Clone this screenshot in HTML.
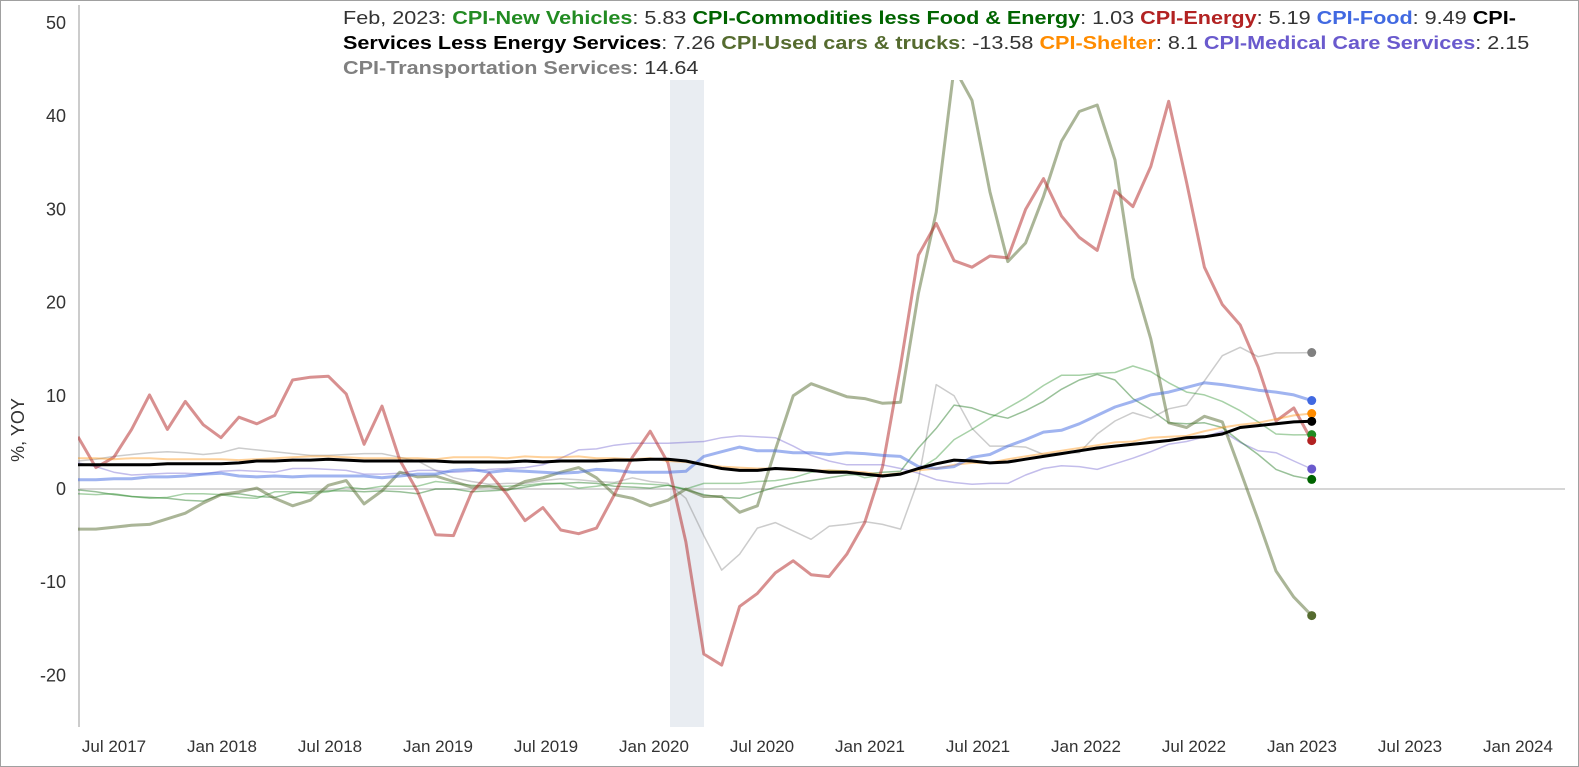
<!DOCTYPE html>
<html><head><meta charset="utf-8"><style>
body{margin:0;background:#fff;}
#wrap{position:relative;width:1579px;height:767px;overflow:hidden;font-family:"Liberation Sans",Arial,sans-serif;}
#frame{position:absolute;left:0;top:0;width:1577px;height:765px;border:1px solid #a0a0a0;}
#legend{position:absolute;left:343px;top:6px;white-space:nowrap;font-size:18px;line-height:25px;color:#333;transform:scaleX(1.2);transform-origin:0 0;}
#legend b{font-weight:bold;}
</style></head><body>
<div id="wrap">
<div id="frame"></div>
<svg id="chart" width="1579" height="767" style="position:absolute;left:0;top:0"></svg>
<div id="legend">Feb, 2023: <b style="color:#228b22">CPI-New Vehicles</b>: 5.83 <b style="color:#006400">CPI-Commodities less Food &amp; Energy</b>: 1.03 <b style="color:#b22222">CPI-Energy</b>: 5.19 <b style="color:#4169e1">CPI-Food</b>: 9.49 <b style="color:#000">CPI-<br>Services Less Energy Services</b>: 7.26 <b style="color:#556b2f">CPI-Used cars &amp; trucks</b>: -13.58 <b style="color:#ff8c00">CPI-Shelter</b>: 8.1 <b style="color:#6a5acd">CPI-Medical Care Services</b>: 2.15<br><b style="color:#808080">CPI-Transportation Services</b>: 14.64</div>
</div>
<script>
// months from May 2017 (index 0) to Feb 2023 (index 69)
const yTicks=[50,40,30,20,10,0,-10,-20];
const xTickLabels=["Jul 2017","Jan 2018","Jul 2018","Jan 2019","Jul 2019","Jan 2020","Jul 2020","Jan 2021","Jul 2021","Jan 2022","Jul 2022","Jan 2023","Jul 2023","Jan 2024"];
const xTickMonths=[2,8,14,20,26,32,38,44,50,56,62,68,74,80];
const recessionMonths=[33,35];
const newVehicles=[-0.5,-0.6,-0.5,-0.8,-1.0,-0.9,-0.5,-0.5,-0.6,-0.9,-1.0,-0.3,-0.3,-0.5,-0.3,0.2,0.0,0.3,0.3,0.3,0.8,0.6,0.4,0.3,0.3,0.4,0.6,0.6,0.1,0.3,0.6,0.6,0.5,0.4,0.0,0.6,0.6,0.6,0.8,0.9,1.2,1.8,2.0,1.9,1.2,1.5,1.7,2.1,3.3,5.3,6.4,7.6,8.7,9.8,11.1,12.2,12.2,12.4,12.5,13.2,12.6,11.4,10.4,10.1,9.4,8.4,7.2,5.9,5.8,5.83];
const commodities=[-0.1,-0.3,-0.6,-0.8,-0.9,-1.0,-1.2,-1.3,-0.6,-0.5,-0.8,-0.9,-0.4,-0.3,-0.2,-0.2,-0.3,-0.2,-0.3,-0.5,0.0,0.0,-0.3,-0.2,-0.1,0.2,0.5,0.6,0.7,0.6,0.3,0.2,0.1,0.4,-0.1,-0.6,-0.9,-1.0,-0.4,0.2,0.6,0.9,1.2,1.5,1.6,1.8,1.9,4.4,6.5,9.0,8.7,8.0,7.6,8.4,9.4,10.7,11.7,12.3,11.7,9.7,8.5,7.1,7.0,7.1,6.6,5.1,3.7,2.1,1.4,1.03];
const energy=[5.6,2.3,3.4,6.4,10.1,6.4,9.4,6.9,5.5,7.7,7.0,7.9,11.7,12.0,12.1,10.2,4.8,8.9,3.1,-0.3,-4.9,-5.0,-0.4,1.7,-0.6,-3.4,-2.0,-4.4,-4.8,-4.2,-0.6,3.4,6.2,2.8,-5.7,-17.7,-18.9,-12.6,-11.2,-9.0,-7.7,-9.2,-9.4,-7.0,-3.6,2.4,13.2,25.1,28.5,24.5,23.8,25.0,24.8,30.0,33.3,29.3,27.0,25.6,32.0,30.3,34.6,41.6,32.9,23.8,19.8,17.6,13.1,7.3,8.7,5.19];
const food=[1.0,1.0,1.1,1.1,1.3,1.3,1.4,1.6,1.7,1.4,1.3,1.4,1.3,1.4,1.4,1.4,1.4,1.2,1.4,1.6,1.6,2.0,2.1,1.8,2.0,1.9,1.8,1.7,1.8,2.1,2.0,1.8,1.8,1.8,1.9,3.5,4.0,4.5,4.1,4.1,3.9,3.9,3.7,3.9,3.8,3.6,3.5,2.4,2.2,2.4,3.4,3.7,4.6,5.3,6.1,6.3,7.0,7.9,8.8,9.4,10.1,10.4,10.9,11.4,11.2,10.9,10.6,10.4,10.1,9.49];
const services=[2.6,2.6,2.6,2.6,2.6,2.7,2.7,2.7,2.7,2.8,3.0,3.0,3.1,3.1,3.2,3.1,3.0,3.0,3.0,3.0,3.0,2.9,2.9,2.9,2.9,3.0,2.9,3.0,3.0,3.0,3.1,3.1,3.2,3.2,3.0,2.6,2.2,2.0,2.0,2.2,2.1,2.0,1.8,1.8,1.6,1.4,1.6,2.2,2.7,3.1,3.0,2.8,2.9,3.2,3.5,3.8,4.1,4.4,4.6,4.8,5.0,5.2,5.5,5.6,5.9,6.6,6.8,7.0,7.2,7.26];
const usedCars=[-4.3,-4.3,-4.1,-3.9,-3.8,-3.2,-2.6,-1.5,-0.6,-0.3,0.1,-1.0,-1.8,-1.2,0.4,0.9,-1.6,-0.2,1.8,1.3,1.4,0.8,0.2,0.3,-0.1,0.8,1.2,1.8,2.3,1.2,-0.6,-1.0,-1.8,-1.2,0.0,-0.8,-0.8,-2.5,-1.8,4.2,10.0,11.3,10.6,9.9,9.7,9.2,9.3,21.0,29.7,45.2,41.7,31.9,24.4,26.4,31.4,37.3,40.5,41.2,35.3,22.7,16.1,7.1,6.6,7.8,7.2,2.0,-3.3,-8.8,-11.6,-13.58];
const shelter=[3.3,3.3,3.2,3.3,3.3,3.2,3.2,3.2,3.2,3.1,3.2,3.3,3.4,3.5,3.5,3.4,3.3,3.3,3.3,3.3,3.2,3.4,3.4,3.4,3.3,3.5,3.4,3.4,3.5,3.3,3.3,3.2,3.3,3.0,2.9,2.6,2.4,2.3,2.2,2.2,2.0,2.0,2.0,1.9,1.8,1.5,1.7,2.0,2.2,2.6,2.8,2.8,3.2,3.5,3.8,4.1,4.4,4.7,5.0,5.1,5.5,5.6,5.7,6.2,6.6,6.9,7.1,7.5,7.9,8.1];
const medical=[2.8,2.4,1.8,1.5,1.6,1.7,1.7,1.6,1.9,2.0,1.9,1.8,2.2,2.2,2.1,2.0,1.6,1.6,1.7,2.0,2.0,1.8,1.9,2.1,2.2,2.3,2.6,3.3,4.2,4.3,4.7,4.9,4.9,4.9,5.0,5.1,5.5,5.7,5.6,5.5,4.6,3.6,3.0,2.6,2.6,2.6,2.2,1.7,1.0,0.7,0.5,0.6,0.6,1.5,2.2,2.5,2.4,2.1,2.7,3.3,4.0,4.8,5.1,5.6,6.2,5.0,4.1,3.9,3.0,2.15];
const transport=[3.0,3.2,3.5,3.7,3.9,4.0,3.9,3.7,3.9,4.4,4.2,4.0,3.8,3.6,3.6,3.7,3.8,3.8,3.4,3.0,2.0,1.2,0.8,0.5,0.6,0.6,0.9,1.1,1.0,0.8,0.7,1.2,0.8,0.6,-1.0,-5.0,-8.7,-7.0,-4.2,-3.6,-4.5,-5.4,-4.0,-3.8,-3.5,-3.8,-4.3,1.0,11.2,10.0,6.5,4.6,4.6,4.5,3.7,3.9,3.9,5.9,7.3,8.2,7.6,8.6,9.0,11.6,14.3,15.2,14.2,14.6,14.6,14.64];

const NS='http://www.w3.org/2000/svg';
const svg=document.getElementById('chart');
const X0=78, DX=17.88, Y0=489, KY=9.32, PT=80, PB=727, PR=1565;
const LX0=114, LDX=18.0;
const xs=i=>X0+i*DX;
const xl=m=>LX0+(m-2)*LDX;
const ys=v=>Y0-v*KY;
function mk(t,a){const e=document.createElementNS(NS,t);for(const k in a)e.setAttribute(k,a[k]);svg.appendChild(e);return e;}

const defs=mk('defs',{});
const cp=document.createElementNS(NS,'clipPath');cp.setAttribute('id','plotclip');
const cr=document.createElementNS(NS,'rect');cr.setAttribute('x',X0);cr.setAttribute('y',PT);cr.setAttribute('width',PR-X0);cr.setAttribute('height',PB-PT);
cp.appendChild(cr);defs.appendChild(cp);

const rec=mk('rect',{x:670,y:PT,width:34,height:PB-PT,fill:'#e9edf2'});



const ax=mk('line',{x1:X0+1,y1:5,x2:X0+1,y2:PB,stroke:'#bbb','stroke-width':1.5});


const zl=mk('line',{x1:X0,y1:ys(0),x2:PR,y2:ys(0),stroke:'#c8c8c8','stroke-width':1.5});



yTicks.forEach(v=>{
 const t=mk('text',{x:66,y:ys(v)+6,'text-anchor':'end','font-size':18,fill:'#333','font-family':'Liberation Sans, Arial, sans-serif'});
 t.textContent=v;
 
 
});
xTickLabels.forEach((l,k)=>{
 const t=mk('text',{x:xl(xTickMonths[k]),y:752,'text-anchor':'middle','font-size':17,fill:'#333','font-family':'Liberation Sans, Arial, sans-serif'});
 t.textContent=l;
 
 
});
const yt=mk('text',{x:0,y:0,transform:'translate(24,430) rotate(-90)','text-anchor':'middle','font-size':18,fill:'#333','font-family':'Liberation Sans, Arial, sans-serif'});
yt.textContent='%, YOY';



const series=[
 [transport,'#808080',1.5,0.4,'line-transportation-services'],
 [medical,'#6a5acd',1.5,0.4,'line-medical-care-services'],
 [commodities,'#006400',1.5,0.4,'line-commodities-less-food-energy'],
 [newVehicles,'#228b22',1.5,0.4,'line-new-vehicles'],
 [usedCars,'#556b2f',3,0.5,'line-used-cars-trucks'],
 [energy,'#b22222',3,0.5,'line-energy'],
 [shelter,'#ff8c00',2,0.4,'line-shelter'],
 [food,'#4169e1',3,0.5,'line-food'],
 [services,'#000000',3,1,'line-services-less-energy']
];
const g=mk('g',{'clip-path':'url(#plotclip)'});
series.forEach(s=>{
 const d=s[0].map((v,i)=>(i?'L':'M')+xs(i).toFixed(1)+','+ys(v).toFixed(1)).join('');
 const p=document.createElementNS(NS,'path');
 p.setAttribute('d',d);p.setAttribute('fill','none');p.setAttribute('stroke',s[1]);
 p.setAttribute('stroke-width',s[2]);p.setAttribute('stroke-opacity',s[3]);p.setAttribute('stroke-linejoin','round');
 
 
 g.appendChild(p);
});
series.forEach(s=>{
 const n=s[0].length-1;
 const c=mk('circle',{cx:xs(n),cy:ys(s[0][n]),r:4.5,fill:s[1]});
 
 
});
</script>
</body></html>
